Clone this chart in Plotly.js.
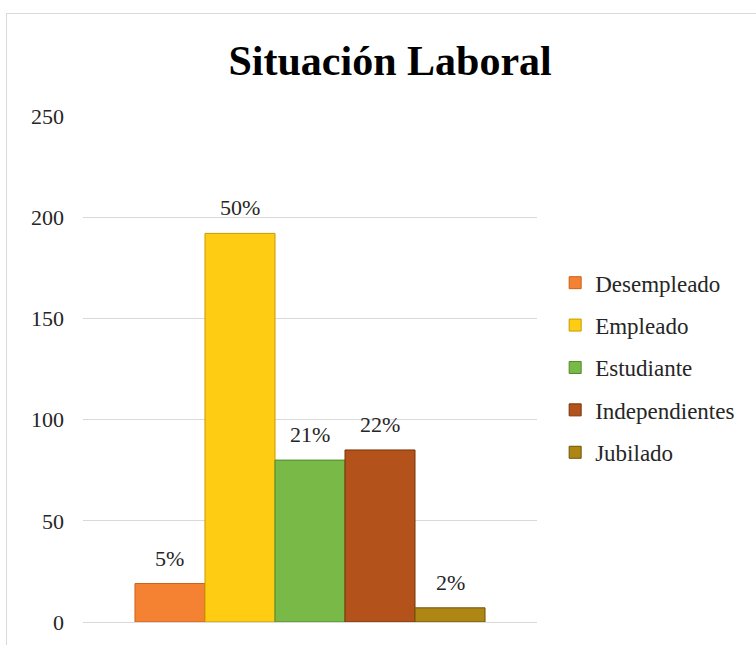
<!DOCTYPE html>
<html>
<head>
<meta charset="utf-8">
<script src="https://cdn.plot.ly/plotly-3.0.1.min.js"></script>
<style>
  body { margin: 0; background: #ffffff; overflow: hidden; }
  #frame { position: absolute; left: 6px; top: 13px; width: 820px; height: 700px; border: 1.5px solid #d9d9d9; box-sizing: border-box; }
  #chart { position: absolute; left: 0; top: 0; width: 756px; height: 645px; }
</style>
</head>
<body>
<div id="frame"></div>
<div id="chart"></div>
<script>
const categories = ['Desempleado', 'Empleado', 'Estudiante', 'Independientes', 'Jubilado'];
const values = [19, 192, 80, 85, 7];
const percentLabels = ['5%', '50%', '21%', '22%', '2%'];
const colors = ['#F58233', '#FFCC14', '#78B948', '#B3521A', '#AE8614'];
const lineColors = ['#C8621C', '#C79A00', '#4F8A2C', '#7A3208', '#6E5408'];
const yTicks = [0, 50, 100, 150, 200, 250];

const serif = 'Liberation Serif, Times New Roman, serif';
const bargap = 0.229;

const traces = categories.map((name, i) => ({
  type: 'bar',
  name: name,
  legendgroup: name,
  x: [0],
  y: [values[i]],
  marker: { color: colors[i], line: { color: lineColors[i], width: 1 } },
  hoverinfo: 'name+y'
}));

// label annotations placed at each bar's centre within the group
const groupW = 1 - bargap;
const barW = groupW / categories.length;
const annotations = categories.map((name, i) => ({
  xref: 'x', yref: 'y',
  x: -groupW / 2 + barW * (i + 0.5),
  y: values[i],
  text: percentLabels[i],
  showarrow: false,
  xanchor: 'center', yanchor: 'bottom',
  yshift: 11,
  font: { family: serif, size: 22, color: '#262626' }
}));

const layout = {
  width: 756,
  height: 645,
  paper_bgcolor: 'rgba(0,0,0,0)',
  plot_bgcolor: 'rgba(0,0,0,0)',
  margin: { l: 83, r: 219, t: 116, b: 23 },
  barmode: 'group',
  bargap: bargap,
  bargroupgap: 0,
  title: {
    text: '<b>Situación Laboral</b>',
    font: { family: serif, size: 42, color: '#000000' },
    xref: 'container', x: 0.516, xanchor: 'center',
    yref: 'container', y: 0.906, yanchor: 'middle'
  },
  xaxis: {
    type: 'linear',
    range: [-0.5, 0.5],
    showticklabels: false,
    showgrid: false,
    zeroline: false,
    showline: false,
    fixedrange: true
  },
  yaxis: {
    range: [0, 250],
    tickvals: yTicks,
    ticktext: yTicks.map(String),
    tickfont: { family: serif, size: 22, color: '#262626' },
    showgrid: true,
    gridcolor: '#d9d9d9',
    gridwidth: 1,
    zeroline: true,
    zerolinecolor: '#d9d9d9',
    zerolinewidth: 1,
    showline: false,
    ticks: '',
    ticklabelstandoff: 18,
    fixedrange: true
  },
  annotations: annotations,
  showlegend: true,
  legend: {
    x: 1.04, xanchor: 'left',
    y: 0.713, yanchor: 'top',
    font: { family: serif, size: 23, color: '#262626' },
    traceorder: 'grouped',
    tracegroupgap: 9.5,
    itemwidth: 30,
    bgcolor: 'rgba(0,0,0,0)'
  }
};

Plotly.newPlot('chart', traces, layout, { displayModeBar: false, staticPlot: true });
</script>
</body>
</html>
